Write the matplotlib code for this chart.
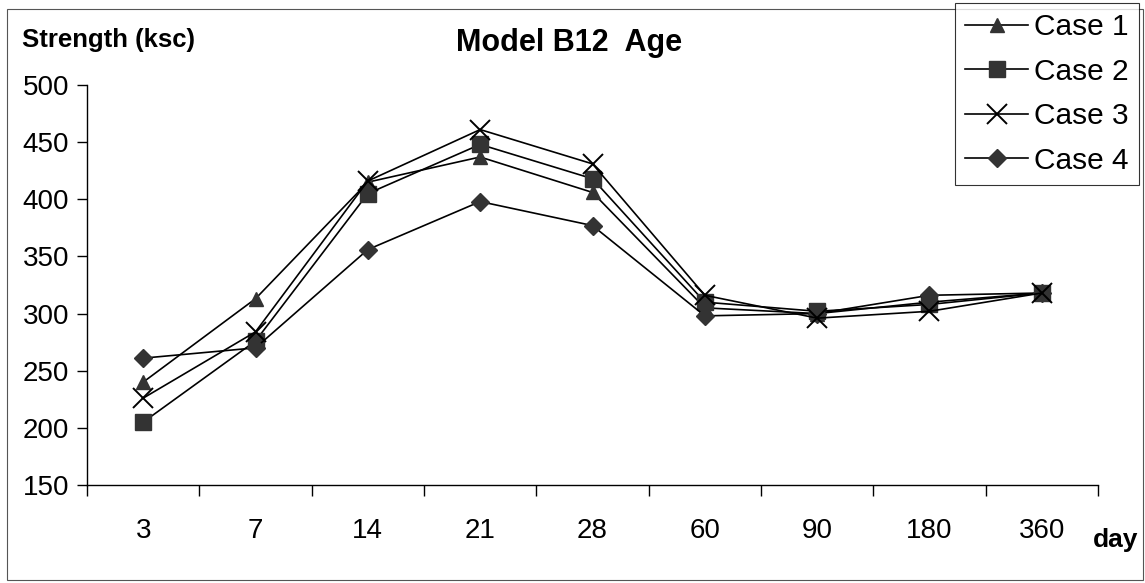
import matplotlib.pyplot as plt
from matplotlib.patches import Rectangle

plt.rcParams['font.family'] = ['Liberation Sans', 'DejaVu Sans']

days = ['3', '7', '14', '21', '28', '60', '90', '180', '360']
case1 = [240, 313, 415, 437, 406, 305, 300, 310, 318]
case2 = [205, 276, 405, 448, 418, 310, 302, 308, 318]
case3 = [226, 284, 416, 461, 431, 316, 296, 302, 318]
case4 = [261, 270, 356, 398, 377, 298, 300, 316, 318]
yticks = [150, 200, 250, 300, 350, 400, 450, 500]

fig = plt.figure(figsize=(11.45, 5.83), dpi=100)
fig.patches.append(Rectangle((7/1145, 0.005), 1 - 9/1145, 1 - 12/583, transform=fig.transFigure,
                             fill=False, edgecolor='#555555', linewidth=0.8))
ax = fig.add_axes([87/1145, 98/583, 1011/1145, 400/583])

x = list(range(len(days)))
lw = 1.2; mc = '#333333'
ax.plot(x, case1, color='black', lw=lw, marker='^', ms=10, mfc=mc, mec=mc, label='Case 1', zorder=3)
ax.plot(x, case2, color='black', lw=lw, marker='s', ms=11, mfc=mc, mec=mc, label='Case 2', zorder=3)
ax.plot(x, case3, color='black', lw=lw, marker='x', ms=14, mew=1.4, mec='black', label='Case 3', zorder=4)
ax.plot(x, case4, color='black', lw=lw, marker='D', ms=9, mfc=mc, mec=mc, label='Case 4', zorder=3)

ax.set_xlim(-0.5, len(days) - 0.5)
ax.set_ylim(150, 500)
ax.set_yticks(yticks)
ax.set_yticklabels([str(v) for v in yticks], fontsize=20)
ax.set_xticks([i - 0.5 for i in range(len(days) + 1)])
ax.set_xticklabels([])
ax.set_xticks(x, minor=True)
ax.set_xticklabels(days, minor=True, fontsize=20)
ax.tick_params(axis='x', which='major', length=8, width=1, direction='out')
ax.tick_params(axis='x', which='minor', length=0, pad=24)
ax.tick_params(axis='y', length=7, width=1, direction='out', pad=6)

for s in ['top', 'right']:
    ax.spines[s].set_visible(False)
for s in ['left', 'bottom']:
    ax.spines[s].set_linewidth(1)

fig.text(569/1145, 1 - 43/583, 'Model B12  Age', fontsize=22, fontweight='bold', ha='center', va='center')
fig.text(22/1145, 1 - 40/583, 'Strength (ksc)', fontsize=18.5, fontweight='bold', ha='left', va='center')
fig.text(1116/1145, 1 - 540/583, 'day', fontsize=19, fontweight='bold', ha='center', va='center')

leg = fig.legend(loc='upper right', bbox_to_anchor=(1139/1145, 1 - 3/583), fontsize=21.5,
                 frameon=True, fancybox=False, edgecolor='black', handlelength=2.1,
                 handletextpad=0.2, labelspacing=0.55, borderpad=0.35, borderaxespad=0)
leg.get_frame().set_linewidth(0.8)

fig.savefig('out.png', dpi=100)
